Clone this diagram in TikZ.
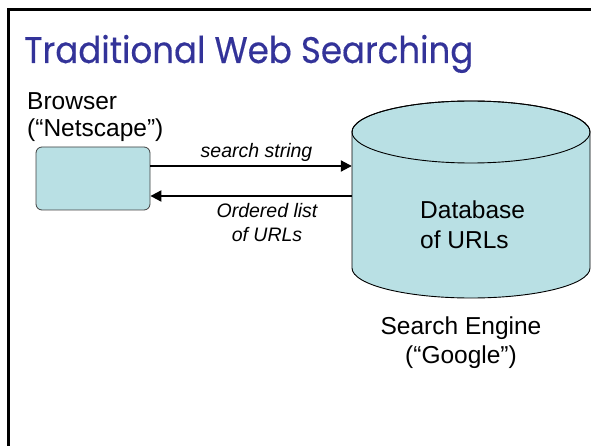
\documentclass[tikz,border=0pt]{standalone}
\usepackage{fontspec}
\setmainfont{Liberation Sans}
\newfontface\titlefont[FakeBold=0.4]{Poppins}
\usetikzlibrary{arrows.meta}
\definecolor{dbfill}{RGB}{185,224,228}
\definecolor{titleblue}{RGB}{51,51,153}
\begin{document}
\begin{tikzpicture}[x=1pt,y=-1pt,
  frame/.style={line width=3pt, draw=black},
  box/.style={draw=black!75, line width=0.8pt, fill=dbfill, rounded corners=6pt},
  flow/.style={line width=2pt, -{Triangle[length=11pt,width=11pt]}},
  lbl/.style={inner sep=0pt},
  msg/.style={inner sep=0pt, font=\itshape\fontsize{19.5}{24}\selectfont}
]
\useasboundingbox (0,0) rectangle (591,446);
\clip (0,0) rectangle (591,446);

% slide frame
\draw[frame] (8,470) -- (8,10) -- (620,10);

% title
\node[anchor=base west, inner sep=0pt, text=titleblue,
      font=\titlefont\fontsize{37}{40}\selectfont] (title) at (24,63)
      {\scalebox{0.92}[1]{Traditional Web Searching}};

% browser (multi-line nodes are placed by the baseline of their last line)
\node[lbl, align=left, anchor=base west, font=\fontsize{24.5}{27}\selectfont]
      (blabel) at (27,137) {Browser\\(“Netscape”)};
\node[box, minimum width=114pt, minimum height=63pt] (browser) at (93,178.5) {};

% database cylinder
\path[fill=dbfill, draw=black, line width=0.9pt]
  (352,132) -- (352,268)
  arc[start angle=180, end angle=0, x radius=119, y radius=30]
  -- (590,132)
  arc[start angle=0, end angle=-180, x radius=119, y radius=31] -- cycle;
\draw[line width=0.9pt] (471,132) ellipse[x radius=119, y radius=31];
\node[inner sep=0pt, minimum width=238pt, minimum height=136pt] (db) at (471,200) {};

\node[lbl, align=left, anchor=base west, font=\fontsize{24.5}{30}\selectfont]
      (dbtext) at (420,248) {Database\\of URLs};
\node[lbl, align=center, anchor=base, font=\fontsize{24.5}{29}\selectfont]
      (engine) at (461,363) {Search Engine\\(“Google”)};

% request and reply
\draw[flow] ([yshift=12.5pt]browser.east) -- ([yshift=12.5pt]browser.east -| db.west);
\draw[flow] ([yshift=-17.5pt]browser.east -| db.west) -- ([yshift=-17.5pt]browser.east);

\node[msg, anchor=base] (sstr) at (256.5,158) {search string};
\node[msg, anchor=base, align=center] (olist) at (267,241) {Ordered list\\of URLs};
\end{tikzpicture}
\end{document}
